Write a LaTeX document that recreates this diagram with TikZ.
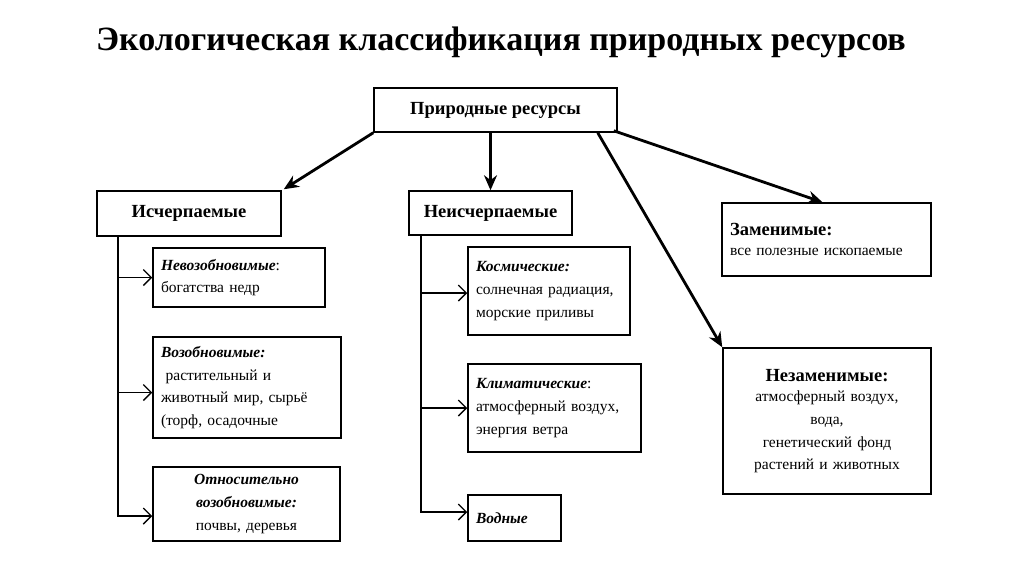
\documentclass[tikz,border=0pt]{standalone}
\usepackage{fontspec}
\setmainfont{Liberation Serif}
\usetikzlibrary{arrows.meta,calc}
\begin{document}
\begin{tikzpicture}[x=1pt,y=-1pt,
  box/.style={draw, line width=1.5pt, inner xsep=8pt, inner ysep=4pt,
    font=\fontsize{15.5}{22.7}\selectfont, align=left},
  head/.style={box, font=\bfseries\fontsize{18.5}{22}\selectfont, align=center},
  mainarrow/.style={line width=2.8pt, -{Stealth[length=15pt,width=13pt]}},
  subarrow/.style={line width=1.4pt, -{Straight Barb[length=8pt,width=16pt,line width=1.4pt]}}
]
\useasboundingbox (0,0) rectangle (1024,574);
\fill[white] (0,0) rectangle (1024,574);

\node[font=\bfseries\fontsize{34}{38}\selectfont, anchor=center] (title) at (501,42)
  {Экологическая классификация природных ресурсов};

\node[head, minimum width=243pt, minimum height=44pt] (top) at (495.5,110) {Природные ресурсы};
\node[head, minimum width=184pt, minimum height=45pt] (isch) at (189,213.5) {Исчерпаемые};
\node[head, minimum width=163pt, minimum height=44pt] (neis) at (490.5,213) {Неисчерпаемые};

\node[box, text width=193pt, minimum height=73pt] (zam) at (826.5,239.5)
  {{\bfseries\fontsize{18.5}{22}\selectfont Заменимые:}\\[-2pt]все полезные ископаемые};
\node[box, text width=192pt, minimum height=146pt, align=center] (nez) at (827,421)
  {{\bfseries\fontsize{18.5}{22}\selectfont Незаменимые:}\\[-2pt]атмосферный воздух,\\вода,\\генетический фонд\\растений и животных};

\node[box, text width=156pt, minimum height=59pt] (nevoz) at (239,277.5)
  {{\bfseries\itshape Невозобновимые}:\\богатства недр};
\node[box, text width=172pt, minimum height=101pt] (voz) at (247,387.5)
  {{\bfseries\itshape Возобновимые:}\\\hspace*{0.3em}растительный и\\животный мир, сырьё\\(торф, осадочные};
\node[box, text width=171pt, minimum height=74pt, align=center] (otn) at (246.5,504)
  {{\bfseries\itshape Относительно}\\{\bfseries\itshape возобновимые:}\\почвы, деревья};

\node[box, text width=146pt, minimum height=88pt] (kosm) at (549,291)
  {{\bfseries\itshape Космические:}\\солнечная радиация,\\морские приливы};
\node[box, text width=157pt, minimum height=88pt] (klim) at (554.5,408)
  {{\bfseries\itshape Климатические}:\\атмосферный воздух,\\энергия ветра};
\node[box, text width=77pt, minimum height=46pt] (vod) at (514.5,518)
  {{\bfseries\itshape Водные}};

% main arrows
\draw[mainarrow] (top.south west) -- ($(isch.north east)+(2,-1)$);
\draw[mainarrow] (neis.north |- top.south) -- (neis.north);
\draw[mainarrow] ($(top.south east)+(-4,-2)$) -- ($(zam.north)+(-4,0)$);
\draw[mainarrow] ($(top.south east)+(-20,0)$) -- (nez.north west);

% left trunk
\coordinate (lt) at (118,235);
\draw[subarrow] (isch.south -| lt) |- (nevoz.west);
\draw[subarrow] (isch.south -| lt) |- ($(voz.west)+(0,5)$);
\draw[subarrow] (isch.south -| lt) |- ($(otn.west)+(0,12)$);

% middle trunk
\coordinate (mt) at (421,234);
\draw[subarrow] (neis.south -| mt) |- ($(kosm.west)+(0,2)$);
\draw[subarrow] (neis.south -| mt) |- (klim.west);
\draw[subarrow] (neis.south -| mt) |- ($(vod.west)+(0,-6)$);
\end{tikzpicture}
\end{document}
